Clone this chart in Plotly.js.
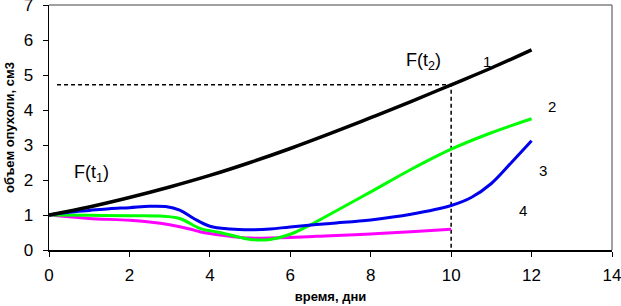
<!DOCTYPE html>
<html>
<head>
<meta charset="utf-8">
<script src="https://cdn.plot.ly/plotly-3.0.1.min.js"></script>
<style>html,body{margin:0;padding:0;background:#fff;}#chart{width:621px;height:306px;}</style>
</head>
<body>
<div id="chart"></div>
<script>
// Curve 1 (black)
const x1 = [0, 1, 2, 3, 4, 5, 6, 7, 8, 9, 10, 11, 12];
const y1 = [1, 1.23, 1.5, 1.8, 2.13, 2.5, 2.9, 3.33, 3.78, 4.24, 4.72, 5.2, 5.72];
// Curve 2 (green)
const x2 = [0, 1, 2, 2.75, 3.25, 3.75, 4.25, 4.75, 5.1, 5.5, 6, 6.5, 7, 8, 9, 10, 11, 12];
const y2 = [1, 0.99, 0.98, 0.97, 0.9, 0.62, 0.5, 0.36, 0.29, 0.3, 0.45, 0.72, 1.03, 1.66, 2.3, 2.88, 3.35, 3.75];
// Curve 3 (blue)
const x3 = [0, 0.5, 1, 1.5, 2, 2.5, 2.9, 3.25, 3.6, 4, 4.5, 5, 5.5, 6, 7, 8, 9, 10, 10.5, 11, 11.5, 12];
const y3 = [1, 1.08, 1.13, 1.18, 1.21, 1.25, 1.24, 1.14, 0.9, 0.68, 0.6, 0.58, 0.6, 0.66, 0.76, 0.86, 1.02, 1.27, 1.5, 1.9, 2.5, 3.12];
// Curve 4 (magenta)
const x4 = [0, 0.5, 1, 2, 2.5, 3, 3.5, 3.75, 4, 4.25, 4.75, 5, 6, 7, 8, 9, 10];
const y4 = [1, 0.95, 0.9, 0.85, 0.8, 0.72, 0.6, 0.52, 0.47, 0.43, 0.36, 0.34, 0.36, 0.41, 0.46, 0.52, 0.59];
// Guide at t2
const guideX = [0.2, 10, 10];
const guideY = [4.72, 4.72, 0];
// Labels
const xTicks = [0, 2, 4, 6, 8, 10, 12, 14];
const yTicks = [0, 1, 2, 3, 4, 5, 6, 7];
const curveLabels = ['1', '2', '3', '4'];
const curveLabelX = [10.89, 12.5, 12.28, 11.79];
const curveLabelY = [5.4, 4.09, 2.27, 1.14];
const fLabels = ['F(t<sub>1</sub>)', 'F(t<sub>2</sub>)'];
const fLabelX = [1.05, 9.32];
const fLabelY = [2.19, 5.4];

const traces = [
  {x: guideX, y: guideY, mode: 'lines', line: {color: '#000', width: 1.5, dash: '4px,3px'}, hoverinfo: 'skip'},
  {x: x4, y: y4, mode: 'lines', line: {color: '#ff00ff', width: 3, shape: 'spline', smoothing: 1}},
  {x: x2, y: y2, mode: 'lines', line: {color: '#00ff00', width: 3, shape: 'spline', smoothing: 1}},
  {x: x3, y: y3, mode: 'lines', line: {color: '#0000ee', width: 3, shape: 'spline', smoothing: 1}},
  {x: x1, y: y1, mode: 'lines', line: {color: '#000', width: 3.5, shape: 'spline', smoothing: 1}}
];

const annotations = [];
curveLabels.forEach((t, i) => annotations.push({x: curveLabelX[i], y: curveLabelY[i], text: t, showarrow: false, font: {family: 'Liberation Sans, Arial', size: 15, color: '#000'}}));
fLabels.forEach((t, i) => annotations.push({x: fLabelX[i], y: fLabelY[i], text: t, showarrow: false, font: {family: 'Liberation Sans, Arial', size: 18, color: '#000'}}));

const layout = {
  width: 621, height: 306,
  margin: {l: 49, r: 9, t: 5, b: 56},
  paper_bgcolor: '#fff', plot_bgcolor: '#fff',
  showlegend: false,
  font: {family: 'Liberation Sans, Arial', color: '#000'},
  xaxis: {
    range: [0, 14], tickvals: xTicks, ticktext: xTicks.map(String),
    showgrid: false, zeroline: false, showline: true, linecolor: '#000', linewidth: 1.5,
    ticks: 'outside', ticklen: 5, tickcolor: '#000', tickfont: {size: 17},
    ticklabelstandoff: 4, ticklabeloverflow: 'allow',
    title: {text: '<b>время, дни</b>', font: {size: 13}, standoff: 8}
  },
  yaxis: {
    range: [0, 7], tickvals: yTicks, ticktext: yTicks.map(String),
    showgrid: false, zeroline: false, showline: true, linecolor: '#000', linewidth: 1.5,
    ticks: 'outside', ticklen: 5, tickcolor: '#000', tickfont: {size: 17},
    ticklabelstandoff: 6, ticklabeloverflow: 'allow',
    title: {text: '<b>объем опухоли, см3</b>', font: {size: 13}, standoff: 6}
  },
  shapes: [
    {type: 'line', xref: 'paper', yref: 'paper', x0: 0, x1: 1, y0: 1, y1: 1, line: {color: '#808080', width: 1.5}},
    {type: 'line', xref: 'paper', yref: 'paper', x0: 1, x1: 1, y0: 0, y1: 1, line: {color: '#808080', width: 1.5}}
  ],
  annotations: annotations
};

Plotly.newPlot('chart', traces, layout, {staticPlot: true, displayModeBar: false});
</script>
</body>
</html>
